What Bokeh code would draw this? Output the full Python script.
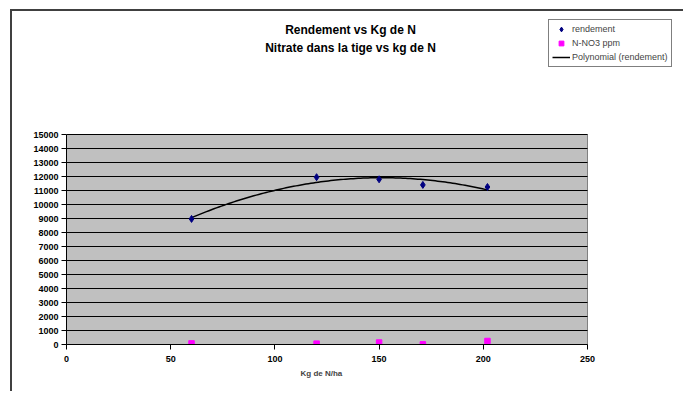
import numpy as np
from bokeh.plotting import figure
from bokeh.models import Range1d, FixedTicker, Legend, LegendItem, Label, Title
from bokeh.embed import file_html
from bokeh.resources import INLINE

# data
kg_n = [60, 120, 150, 171, 202]
rendement = [8970, 11950, 11800, 11400, 11250]
nitrate_ppm = [80, 60, 140, 10, 250]
x_ticks = [0, 50, 100, 150, 200, 250]
y_ticks = list(range(0, 15001, 1000))
title_lines = ["Rendement vs Kg de N", "Nitrate dans la tige vs kg de N"]
x_label = "Kg de N/ha"
series_names = ["rendement", "N-NO3 ppm", "Polynomial (rendement)"]

FONT = "Liberation Sans"

# layout (page pixels): canvas origin (12, 11); plot area 66..587 x 134..344
CAN_X, CAN_Y = 12, 11
PA_L, PA_R, PA_T, PA_B = 66, 587, 134, 344
W, H = 685 - CAN_X, 393 - CAN_Y
x0, x1 = x_ticks[0], x_ticks[-1]
y0, y1 = y_ticks[0], y_ticks[-1]
px_per_x = (PA_R - PA_L) / (x1 - x0)
px_per_y = (PA_B - PA_T) / (y1 - y0)
x_end = x0 + (685 - PA_L) / px_per_x
y_end = y0 + (PA_B - CAN_Y) / px_per_y

def data_x(px):
    return x0 + (px - PA_L) / px_per_x

def data_y(py):
    return y0 + (PA_B - py) / px_per_y

p = figure(width=W, height=H, output_backend="svg", toolbar_location=None,
           x_range=Range1d(x0, x_end), y_range=Range1d(y0, y_end),
           min_border_left=PA_L - CAN_X, min_border_right=0, min_border_top=0,
           min_border_bottom=393 - PA_B)
p.title.visible = False
p.styles = {"margin-left": "10px", "margin-top": "9px",
            "border-left": "2px solid #404040", "border-top": "2px solid #404040"}

p.background_fill_color = "white"
p.border_fill_color = "white"
p.outline_line_color = None
p.xgrid.visible = False
p.ygrid.visible = False

for ax in (p.xaxis[0], p.yaxis[0]):
    ax.major_label_text_font = FONT
    ax.major_label_text_font_style = "bold"
    ax.major_label_text_font_size = "9px"
    ax.major_label_text_color = "black"
    ax.axis_line_color = "black"
    ax.major_tick_line_color = "black"
    ax.major_tick_in = 0
    ax.major_tick_out = 5
    ax.minor_tick_line_color = None

p.xaxis.ticker = FixedTicker(ticks=x_ticks)
p.yaxis.ticker = FixedTicker(ticks=y_ticks)
p.xaxis.bounds = (x0, x1)
p.yaxis.bounds = (y0, y1)
p.yaxis.major_label_standoff = 3
p.xaxis.major_label_standoff = 6

# x-axis title, centred under the grey plot area
p.add_layout(Title(text=x_label, text_font=FONT, text_font_style="bold",
                   text_font_size="8px", align="left", offset=234,
                   vertical_align="top", standoff=8), "below")

# plot area (grey) and horizontal gridlines
p.quad(left=[x0], right=[x1], bottom=[y0], top=[y1], fill_color="#C0C0C0",
       line_color="#808080", line_width=1)
p.segment(x0=[x0] * len(y_ticks), x1=[x1] * len(y_ticks), y0=y_ticks, y1=y_ticks,
          line_color="black", line_width=1)

# polynomial trendline (2nd order least-squares fit of rendement, as in the source)
coef = np.polyfit(kg_n, rendement, 2)
xs = np.linspace(min(kg_n), max(kg_n), 120)
ys = np.polyval(coef, xs)
r_poly = p.line(xs, ys, line_color="black", line_width=1.5)

r_rend = p.scatter(kg_n, rendement, marker="diamond", size=7, fill_color="#000080",
                   line_color="#000080")
r_no3 = p.scatter(kg_n, nitrate_ppm, marker="square", size=5.5, fill_color="#FF00FF",
                  line_color="#FF00FF")

legend = Legend(items=[LegendItem(label=series_names[0], renderers=[r_rend]),
                       LegendItem(label=series_names[1], renderers=[r_no3]),
                       LegendItem(label=series_names[2], renderers=[r_poly])],
                location=(548 - PA_L, PA_B - 67), orientation="vertical")
legend.label_text_font = FONT
legend.label_text_font_size = "9px"
legend.glyph_width = 18
legend.glyph_height = 12
legend.spacing = 2
legend.padding = 3
legend.margin = 0
legend.label_standoff = 2
legend.label_height = 10
legend.border_line_color = "black"
legend.border_line_width = 1
legend.background_fill_color = "white"
legend.background_fill_alpha = 1
p.add_layout(legend, "center")

for t, py in zip(title_lines, [29.5, 47.5]):
    p.add_layout(Label(x=data_x(350), y=data_y(py), text=t, text_font=FONT,
                       text_font_style="bold", text_font_size="12px",
                       text_align="center", text_baseline="middle", text_color="black"))

open("out.html", "w").write(file_html(p, INLINE))
